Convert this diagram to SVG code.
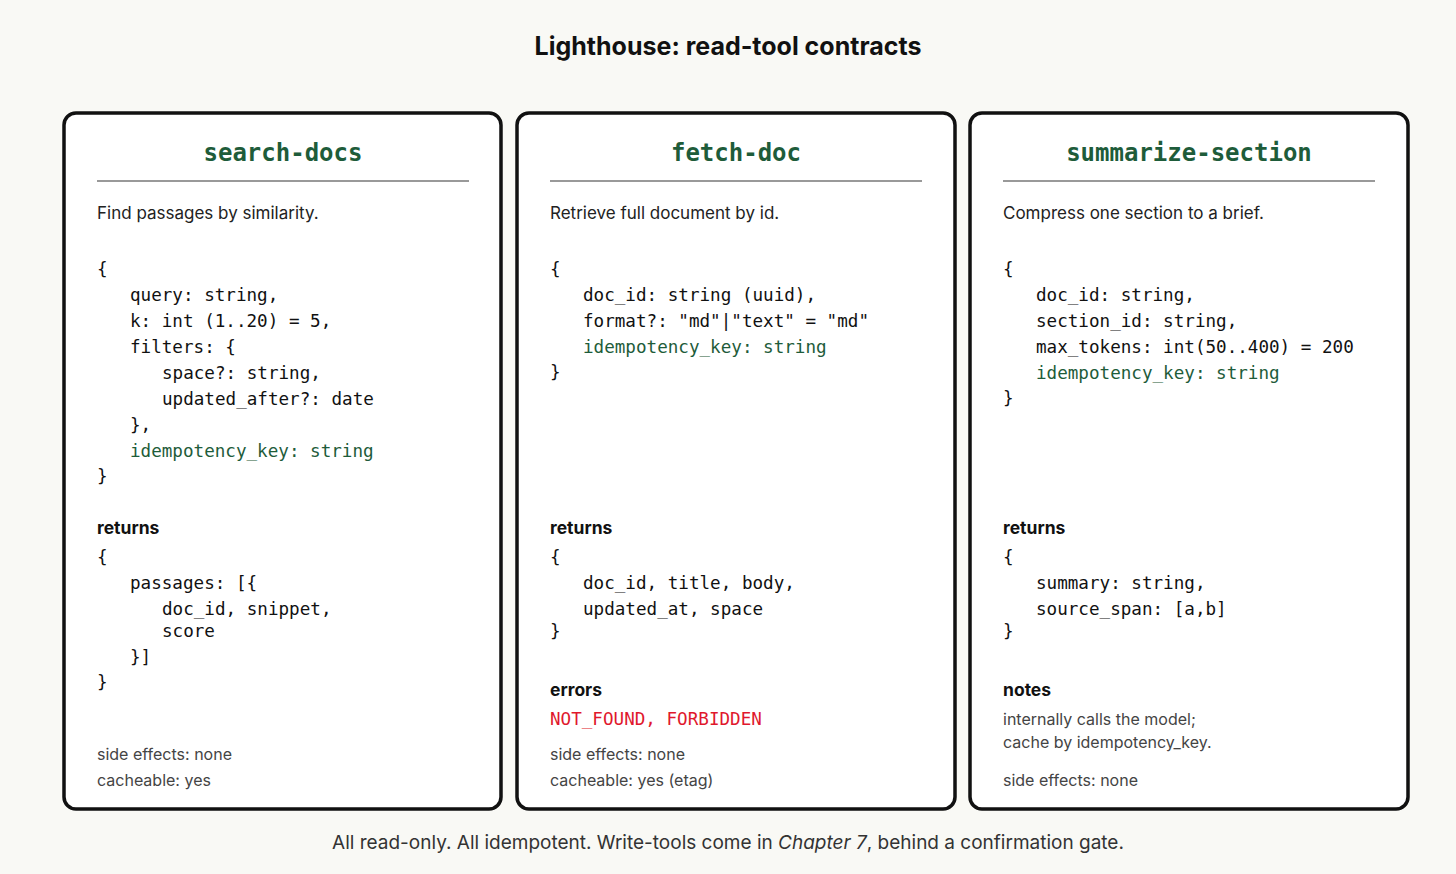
<svg xmlns="http://www.w3.org/2000/svg" width="1456" height="874" viewBox="0 0 1456 874">
<style>
.card{fill:#fff;stroke:#111;stroke-width:3.5}
.rule{stroke:#999;stroke-width:2}
.h{font-family:"DejaVu Sans Mono",monospace;font-weight:bold;font-size:24px;fill:#1e5c3a;text-anchor:middle}
.d{font-family:Inter,"Liberation Sans",sans-serif;font-size:17px;fill:#222}
.m{font-family:"DejaVu Sans Mono",monospace;font-size:17.6px;fill:#111;white-space:pre}
.g{fill:#1e5c3a}
.r{fill:#e0182d}
.b{font-family:Inter,"Liberation Sans",sans-serif;font-size:17.5px;font-weight:bold;fill:#111}
.s{font-family:Inter,"Liberation Sans",sans-serif;font-size:16px;fill:#444}
</style>
<rect width="1456" height="874" fill="#f9f9f5"/>
<text x="728" y="55" text-anchor="middle" font-family="Inter,'Liberation Sans',sans-serif" font-size="25" font-weight="bold" fill="#111">Lighthouse: read-tool contracts</text>
<g id="search-docs">
<rect class="card" x="64" y="113" width="437" height="696" rx="12"/>
<text class="h" x="283" y="161">search-docs</text>
<line class="rule" x1="97" y1="181" x2="469" y2="181"/>
<text class="d" x="97" y="219">Find passages by similarity.</text>
<text class="m" x="97" y="275">{</text>
<text class="m" x="130" y="301">query: string,</text>
<text class="m" x="130" y="327">k: int (1..20) = 5,</text>
<text class="m" x="130" y="353">filters: {</text>
<text class="m" x="162" y="379">space?: string,</text>
<text class="m" x="162" y="405">updated_after?: date</text>
<text class="m" x="130" y="431">},</text>
<text class="m g" x="130" y="457">idempotency_key: string</text>
<text class="m" x="97" y="482">}</text>
<text class="b" x="97" y="534">returns</text>
<text class="m" x="97" y="563">{</text>
<text class="m" x="130" y="589">passages: [{</text>
<text class="m" x="162" y="615">doc_id, snippet,</text>
<text class="m" x="162" y="637">score</text>
<text class="m" x="130" y="663">}]</text>
<text class="m" x="97" y="688">}</text>
<text class="s" x="97" y="760">side effects: none</text>
<text class="s" x="97" y="786">cacheable: yes</text>
</g>
<g id="fetch-doc">
<rect class="card" x="517" y="113" width="438" height="696" rx="12"/>
<text class="h" x="736" y="161">fetch-doc</text>
<line class="rule" x1="550" y1="181" x2="922" y2="181"/>
<text class="d" x="550" y="219">Retrieve full document by id.</text>
<text class="m" x="550" y="275">{</text>
<text class="m" x="583" y="301">doc_id: string (uuid),</text>
<text class="m" x="583" y="327">format?: "md"|"text" = "md"</text>
<text class="m g" x="583" y="353">idempotency_key: string</text>
<text class="m" x="550" y="378">}</text>
<text class="b" x="550" y="534">returns</text>
<text class="m" x="550" y="563">{</text>
<text class="m" x="583" y="589">doc_id, title, body,</text>
<text class="m" x="583" y="615">updated_at, space</text>
<text class="m" x="550" y="637">}</text>
<text class="b" x="550" y="696">errors</text>
<text class="m r" x="550" y="725">NOT_FOUND, FORBIDDEN</text>
<text class="s" x="550" y="760">side effects: none</text>
<text class="s" x="550" y="786">cacheable: yes (etag)</text>
</g>
<g id="summarize-section">
<rect class="card" x="970" y="113" width="438" height="696" rx="12"/>
<text class="h" x="1189" y="161">summarize-section</text>
<line class="rule" x1="1003" y1="181" x2="1375" y2="181"/>
<text class="d" x="1003" y="219">Compress one section to a brief.</text>
<text class="m" x="1003" y="275">{</text>
<text class="m" x="1036" y="301">doc_id: string,</text>
<text class="m" x="1036" y="327">section_id: string,</text>
<text class="m" x="1036" y="353">max_tokens: int(50..400) = 200</text>
<text class="m g" x="1036" y="379">idempotency_key: string</text>
<text class="m" x="1003" y="404">}</text>
<text class="b" x="1003" y="534">returns</text>
<text class="m" x="1003" y="563">{</text>
<text class="m" x="1036" y="589">summary: string,</text>
<text class="m" x="1036" y="615">source_span: [a,b]</text>
<text class="m" x="1003" y="637">}</text>
<text class="b" x="1003" y="696">notes</text>
<text class="s" x="1003" y="725">internally calls the model;</text>
<text class="s" x="1003" y="748">cache by idempotency_key.</text>
<text class="s" x="1003" y="786">side effects: none</text>
</g>
<g id="connectors"/>
<text x="728" y="849" text-anchor="middle" font-family="Inter,'Liberation Sans',sans-serif" font-size="19" fill="#333">All read-only. All idempotent. Write-tools come in <tspan font-style="italic">Chapter 7</tspan>, behind a confirmation gate.</text>
</svg>
